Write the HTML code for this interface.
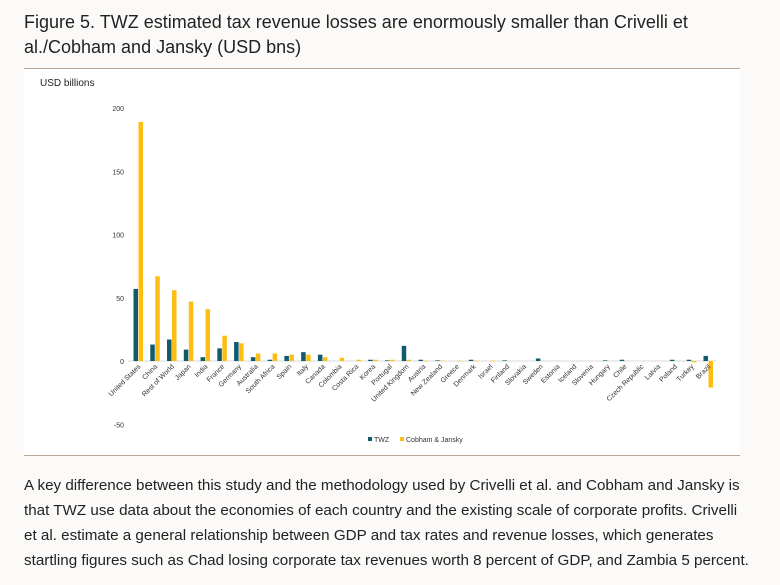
<!DOCTYPE html>
<html><head><meta charset="utf-8"><style>
body{margin:0;width:780px;height:585px;background:#fbfaf8;font-family:"Liberation Sans",sans-serif;overflow:hidden;position:relative}
#title{position:absolute;left:24px;top:10px;width:690px;font-size:18px;line-height:25px;color:#222}
#chartbox{position:absolute;left:24px;top:68px;width:716px;height:386px;background:#fff;border-top:1px solid #b9a895;border-bottom:1px solid #b9a895}
#para{position:absolute;left:24px;top:473px;width:756px;font-size:15.2px;line-height:25px;color:#222;white-space:nowrap}
</style></head><body>
<div id="title">Figure 5. TWZ estimated tax revenue losses are enormously smaller than Crivelli et al./Cobham and Jansky (USD bns)</div>
<div id="chartbox"></div>
<svg id="svg" width="780" height="585" style="position:absolute;left:0;top:0"></svg>
<div id="para">A key difference between this study and the methodology used by Crivelli et al. and Cobham and Jansky is<br>that TWZ use data about the economies of each country and the existing scale of corporate profits. Crivelli<br>et al. estimate a general relationship between GDP and tax rates and revenue losses, which generates<br>startling figures such as Chad losing corporate tax revenues worth 8 percent of GDP, and Zambia 5 percent.</div>
<script>
const categories=["United States","China","Rest of World","Japan","India","France","Germany","Australia","South Africa","Spain","Italy","Canada","Colombia","Costa Rica","Korea","Portugal","United Kingdom","Austria","New Zealand","Greece","Denmark","Israel","Finland","Slovakia","Sweden","Estonia","Iceland","Slovenia","Hungary","Chile","Czech Republic","Latvia","Poland","Turkey","Brazil"];
const twz=[57,13,17,9,3,10,15,3,1,4,7,5,0,0,1,0.5,12,1,0.5,0,1,0,0.5,0,2,0,0,0,0.5,1,0,0,1,1,4];
const cj=[189,67,56,47,41,20,14,6,6,5,5,3,2.5,1,1,1,1,0.3,0.3,0.3,0.3,0.3,0,0,0,0,0,0,0,0,0,0,0,-1,-21];
const ticks=[200,150,100,50,0,-50];
const NS="http://www.w3.org/2000/svg";
const svg=document.getElementById('svg');
const y0=361,k=1.265;
const y=v=>y0-v*k;
const x0=138,step=(708-138)/(categories.length-1);
const x=i=>x0+i*step;
function mk(t,a){const e=document.createElementNS(NS,t);for(const n in a)e.setAttribute(n,a[n]);svg.appendChild(e);return e;}
let u=mk('text',{x:40,y:86,'font-size':10,fill:'#222'});u.textContent='USD billions';


ticks.forEach(t=>{const e=mk('text',{x:124,y:y(t)+3,'font-size':7,fill:'#333','text-anchor':'end'});e.textContent=t;

});
const ax=mk('line',{x1:128,x2:716,y1:y0,y2:y0,stroke:'#d9d9d9','stroke-width':1});


function bar(v,xx,c){const top=Math.min(y(v),y0),h=Math.max(Math.abs(v*k),v!==0?0.6:0);const r=mk('rect',{x:xx,y:top,width:4.5,height:h,fill:c});return r;}
categories.forEach((c,i)=>{
const a=bar(twz[i],x(i)-4.5,'#0f5a6e');


const b=bar(cj[i],x(i)+0.5,'#fdbe14');


const t=mk('text',{x:x(i)+3,y:y0+6,'font-size':7,fill:'#333','text-anchor':'end',transform:`rotate(-45 ${x(i)+3} ${y0+6})`});
t.textContent=c;


});
const lg=[["TWZ","#0f5a6e",368],["Cobham & Jansky","#fdbe14",400]];
lg.forEach(l=>{const r=mk('rect',{x:l[2],y:437,width:4,height:4,fill:l[1]});


const t=mk('text',{x:l[2]+6,y:442,'font-size':7,fill:'#333'});t.textContent=l[0];

});
</script>
</body></html>
